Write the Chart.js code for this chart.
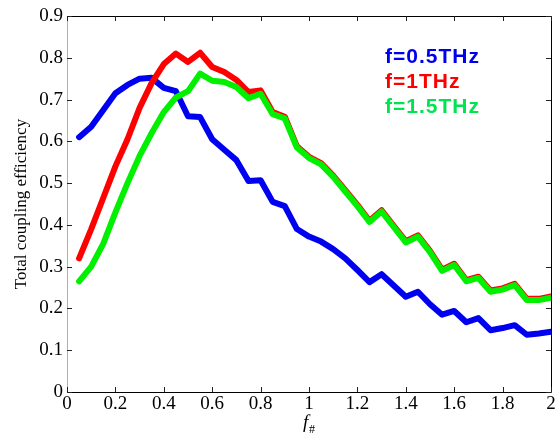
<!DOCTYPE html>
<html>
<head>
<meta charset="utf-8">
<script src="https://cdn.jsdelivr.net/npm/chart.js@4.4.0/dist/chart.umd.min.js"></script>
<style>
  html, body { margin: 0; padding: 0; background: #fff; }
</style>
</head>
<body>
<canvas id="couplingChart" width="557" height="440"></canvas>
<script>
// f-number sample points
const fNumber = [0.05, 0.10, 0.15, 0.20, 0.25, 0.30, 0.35, 0.40, 0.45, 0.50,
                 0.55, 0.60, 0.65, 0.70, 0.75, 0.80, 0.85, 0.90, 0.95, 1.00,
                 1.05, 1.10, 1.15, 1.20, 1.25, 1.30, 1.35, 1.40, 1.45, 1.50,
                 1.55, 1.60, 1.65, 1.70, 1.75, 1.80, 1.85, 1.90, 1.95, 2.00];

const eff05THz = [0.610, 0.635, 0.675, 0.715, 0.735, 0.750, 0.752, 0.728, 0.720, 0.660,
                  0.658, 0.605, 0.580, 0.555, 0.505, 0.507, 0.455, 0.445, 0.390, 0.372,
                  0.360, 0.342, 0.320, 0.292, 0.263, 0.282, 0.255, 0.228, 0.240, 0.210,
                  0.185, 0.194, 0.167, 0.177, 0.148, 0.153, 0.160, 0.137, 0.140, 0.144];

const eff1THz = [0.320, 0.390, 0.465, 0.540, 0.605, 0.680, 0.740, 0.785, 0.810, 0.790,
                 0.812, 0.778, 0.766, 0.747, 0.718, 0.722, 0.670, 0.659, 0.588, 0.563,
                 0.548, 0.518, 0.483, 0.448, 0.410, 0.435, 0.398, 0.361, 0.375, 0.338,
                 0.293, 0.307, 0.268, 0.276, 0.243, 0.248, 0.259, 0.223, 0.223, 0.229];

const eff15THz = [0.265, 0.300, 0.355, 0.430, 0.500, 0.565, 0.620, 0.670, 0.705, 0.720,
                  0.762, 0.745, 0.742, 0.730, 0.703, 0.714, 0.665, 0.655, 0.585, 0.560,
                  0.545, 0.515, 0.480, 0.445, 0.407, 0.432, 0.395, 0.358, 0.372, 0.335,
                  0.290, 0.304, 0.265, 0.273, 0.240, 0.245, 0.256, 0.220, 0.220, 0.226];

const xTicks = [0, 0.2, 0.4, 0.6, 0.8, 1, 1.2, 1.4, 1.6, 1.8, 2];
const yTicks = [0, 0.1, 0.2, 0.3, 0.4, 0.5, 0.6, 0.7, 0.8, 0.9];

const seriesNames = ['f=0.5THz', 'f=1THz', 'f=1.5THz'];
const lineColors = ['#0000f0', '#ff0000', '#00f000'];
const textColors = ['#0000ee', '#ff0000', '#00e450'];

const toPoints = ys => ys.map((y, i) => ({ x: fNumber[i], y: y }));
const fmt = v => String(Math.round(v * 10) / 10);

// boîte, graduations internes, légende et titres d'axes
const framePlugin = {
    id: 'frame',
    afterDraw(chart) {
        const ctx = chart.ctx;
        const a = chart.chartArea;
        const xs = chart.scales.x, ys = chart.scales.y;
        ctx.save();
        ctx.lineWidth = 1;
        ctx.strokeStyle = '#000';
        ctx.beginPath();
        ctx.moveTo(a.left, a.top + 0.5);
        ctx.lineTo(a.right + 0.5, a.top + 0.5);
        ctx.lineTo(a.right + 0.5, a.bottom + 0.5);
        ctx.lineTo(a.left, a.bottom + 0.5);
        ctx.stroke();
        ctx.strokeStyle = '#b0b0b0';
        ctx.beginPath();
        ctx.moveTo(a.left + 0.5, a.top);
        ctx.lineTo(a.left + 0.5, a.bottom);
        ctx.stroke();

        ctx.strokeStyle = '#222';
        ctx.beginPath();
        xTicks.forEach(v => {
            const px = Math.round(xs.getPixelForValue(v)) + 0.5;
            ctx.moveTo(px, a.bottom); ctx.lineTo(px, a.bottom - 5);
            ctx.moveTo(px, a.top); ctx.lineTo(px, a.top + 5);
        });
        yTicks.forEach(v => {
            const py = Math.round(ys.getPixelForValue(v)) + 0.5;
            ctx.moveTo(a.left, py); ctx.lineTo(a.left + 5, py);
            ctx.moveTo(a.right, py); ctx.lineTo(a.right - 5, py);
        });
        ctx.stroke();

        // légende
        ctx.font = 'bold 21px "Liberation Sans", Arial, sans-serif';
        ctx.textAlign = 'left';
        ctx.textBaseline = 'alphabetic';
        if ('letterSpacing' in ctx) ctx.letterSpacing = '1px';
        seriesNames.forEach((name, i) => {
            ctx.fillStyle = textColors[i];
            ctx.fillText(name, 385, 63 + i * 25);
        });
        if ('letterSpacing' in ctx) ctx.letterSpacing = '0px';

        // titre de l'axe y
        ctx.fillStyle = '#000';
        ctx.font = '17px "Liberation Serif", "Times New Roman", serif';
        ctx.save();
        ctx.translate(22, (a.top + a.bottom) / 2);
        ctx.rotate(-Math.PI / 2);
        ctx.textAlign = 'center';
        ctx.textBaseline = 'middle';
        ctx.fillText('Total coupling efficiency', 0, 0);
        ctx.restore();

        // titre de l'axe x : f#
        const cx = (a.left + a.right) / 2;
        ctx.font = 'italic 19px "Liberation Serif", "Times New Roman", serif';
        ctx.textAlign = 'left';
        ctx.textBaseline = 'alphabetic';
        ctx.fillText('f', cx - 6, 428);
        ctx.font = '12px "Liberation Serif", "Times New Roman", serif';
        ctx.fillText('#', cx, 433);
        ctx.restore();
    }
};

const tickFont = { family: '"Liberation Serif", "Times New Roman", serif', size: 19 };

new Chart(document.getElementById('couplingChart').getContext('2d'), {
    type: 'line',
    data: {
        datasets: [eff05THz, eff1THz, eff15THz].map((ys, i) => ({
            label: seriesNames[i],
            data: toPoints(ys),
            borderColor: lineColors[i],
            backgroundColor: lineColors[i],
            borderWidth: 6,
            borderJoinStyle: 'round',
            borderCapStyle: 'round',
            pointRadius: 0,
            tension: 0,
            fill: false,
            order: 3 - i
        }))
    },
    options: {
        responsive: false,
        devicePixelRatio: 1,
        animation: false,
        layout: { padding: { top: 16, right: 6, left: 0, bottom: 0 } },
        plugins: {
            legend: { display: false },
            tooltip: { enabled: false }
        },
        scales: {
            x: {
                type: 'linear',
                min: 0,
                max: 2,
                afterBuildTicks: s => { s.ticks = xTicks.map(v => ({ value: v })); },
                afterFit: s => { s.height = 48; s.paddingLeft = 0; s.paddingRight = 0; },
                grid: { display: false, drawTicks: false },
                border: { display: false },
                ticks: { font: tickFont, color: '#000', padding: 1, maxRotation: 0, callback: fmt }
            },
            y: {
                type: 'linear',
                min: 0,
                max: 0.9,
                afterBuildTicks: s => { s.ticks = yTicks.map(v => ({ value: v })); },
                afterFit: s => { s.width = 67; s.paddingTop = 0; s.paddingBottom = 0; },
                grid: { display: false, drawTicks: false },
                border: { display: false },
                ticks: { font: tickFont, color: '#000', padding: 4, callback: fmt }
            }
        }
    },
    plugins: [framePlugin]
});
</script>
</body>
</html>
